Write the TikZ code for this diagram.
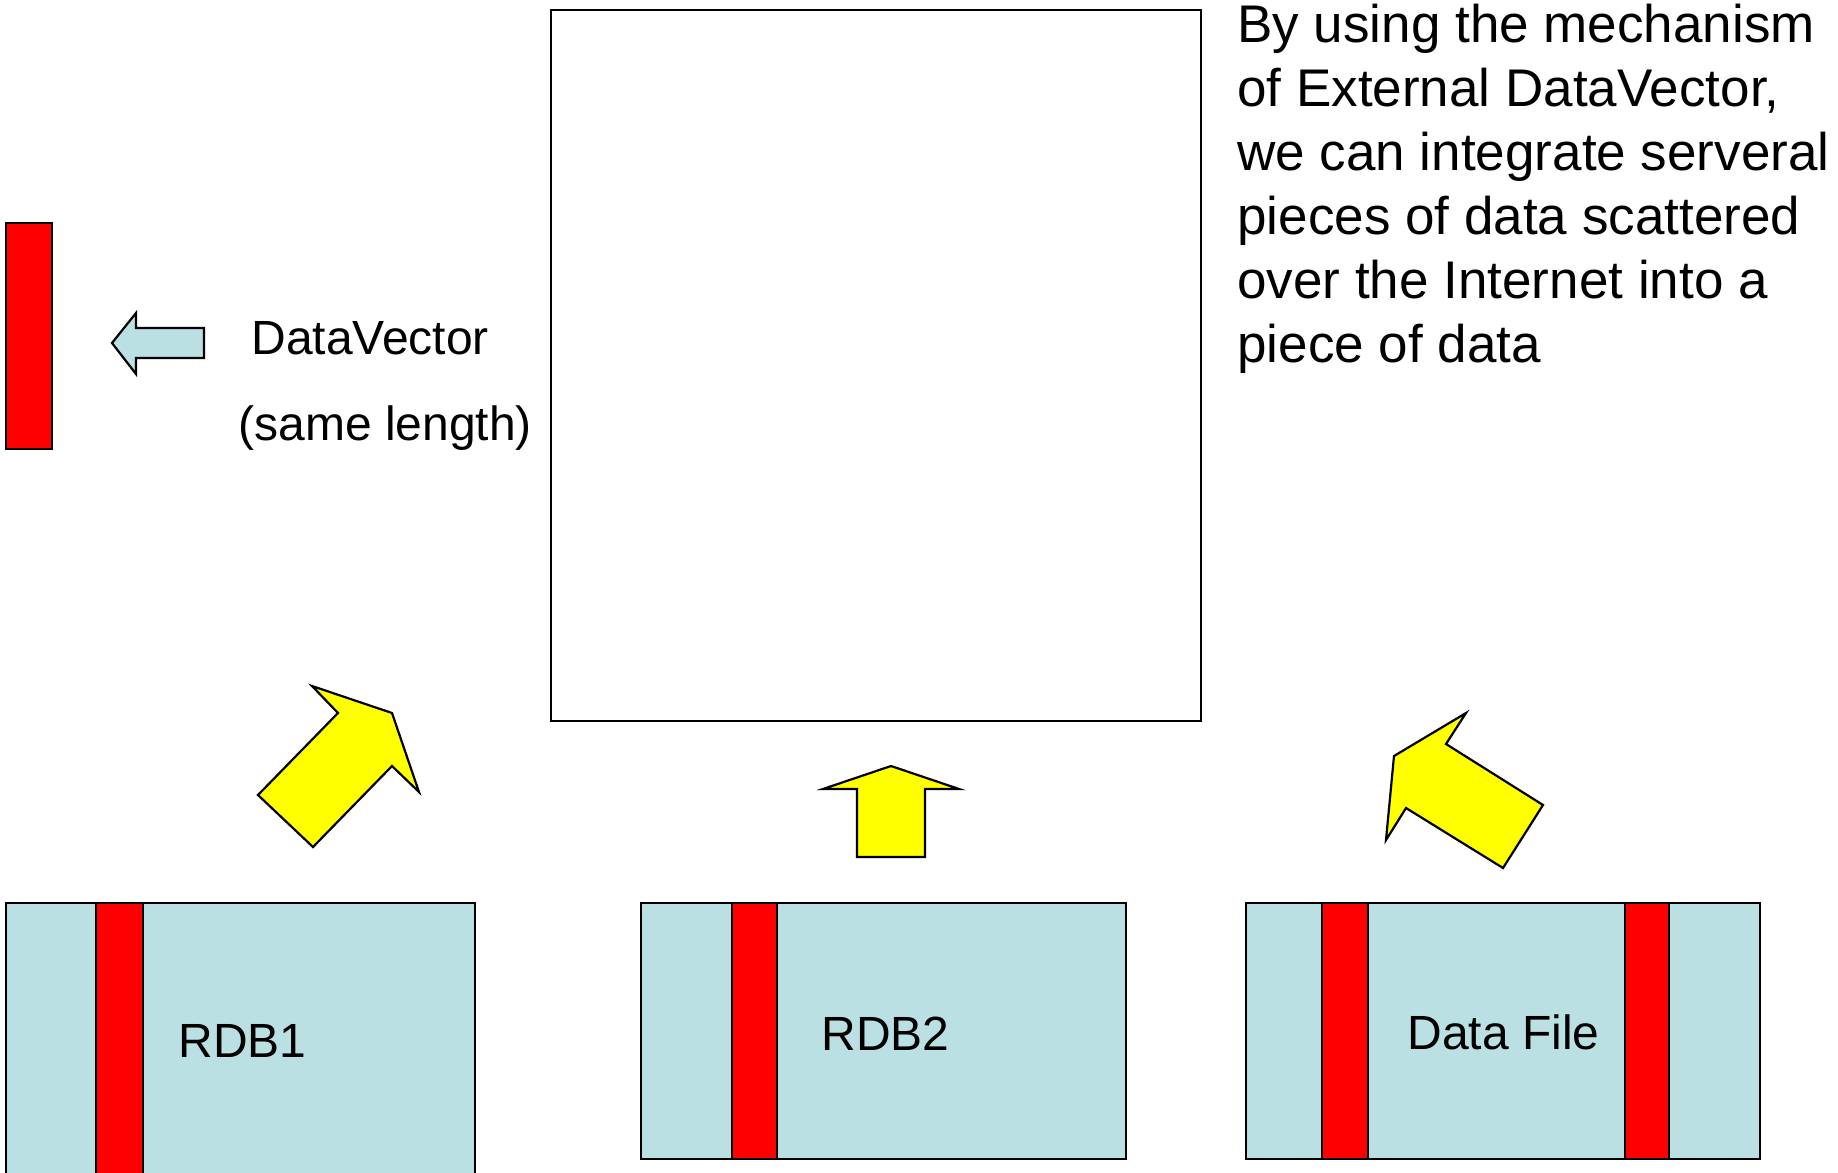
\documentclass[tikz,border=0pt]{standalone}
\usepackage{fontspec}
\setmainfont{Liberation Sans}
\definecolor{dvblue}{HTML}{BBE0E3}
\definecolor{dvred}{HTML}{FF0000}
\definecolor{dvyellow}{HTML}{FFFF00}
\tikzset{
  outline/.style={draw=black, line width=1.1pt, line join=miter},
  store/.style={outline, fill=dvblue},
  vec/.style={outline, fill=dvred},
  blockarrow/.style={outline, fill=dvyellow},
  lbl/.style={anchor=base west, inner sep=0pt, font=\fontsize{24}{28}\selectfont},
  para/.style={anchor=base west, inner sep=0pt, font=\fontsize{26.5}{32}\selectfont}
}
\begin{document}
\begin{tikzpicture}[x=0.5pt, y=-0.5pt]
\useasboundingbox (0,0) rectangle (1838,1173);
\begin{scope}
\clip (0,0) rectangle (1838,1173);

% the vector on its own, with the small pointer
\draw[vec] (6,223) rectangle (52,449);
\draw[outline, fill=dvblue] (112,343) -- (136,313) -- (136,328) -- (204,328)
  -- (204,358) -- (136,358) -- (136,374) -- cycle;
\node[lbl] (dvname) at (251,354) {DataVector};
\node[lbl] (dvlen) at (238,440) {(same length)};

% the integrated result
\draw[outline, fill=white] (551,10) rectangle (1201,721);

% explanation
\foreach \t [count=\i] in {By using the mechanism, of External DataVector{,},
  we can integrate serveral, pieces of data scattered,
  over the Internet into a, piece of data}
  \node[para] (expl\i) at (1237,{42+64*(\i-1)}) {\t};

% block arrows towards the result
\draw[blockarrow] (258,795) -- (313,847) -- (392,766) -- (419,792)
  -- (392,713) -- (312,686) -- (338,713) -- cycle;
\draw[blockarrow] (891,766) -- (959,789) -- (925,789) -- (925,857)
  -- (857,857) -- (857,789) -- (823,789) -- cycle;
\draw[blockarrow] (1394,756) -- (1466,713) -- (1446,744) -- (1543,805)
  -- (1503,868) -- (1406,808) -- (1386,840) -- cycle;

% sources
\draw[store] (6,903) rectangle (475,1200);
\draw[vec] (96,903) rectangle (143,1200);
\node[lbl] (rdb1) at (178,1057) {RDB1};

\draw[store] (641,903) rectangle (1126,1159);
\draw[vec] (732,903) rectangle (777,1159);
\node[lbl] (rdb2) at (821,1050) {RDB2};

\draw[store] (1246,903) rectangle (1760,1159);
\draw[vec] (1322,903) rectangle (1368,1159);
\draw[vec] (1625,903) rectangle (1669,1159);
\node[lbl] (dfile) at (1407,1049) {Data File};
\end{scope}
\end{tikzpicture}
\end{document}
